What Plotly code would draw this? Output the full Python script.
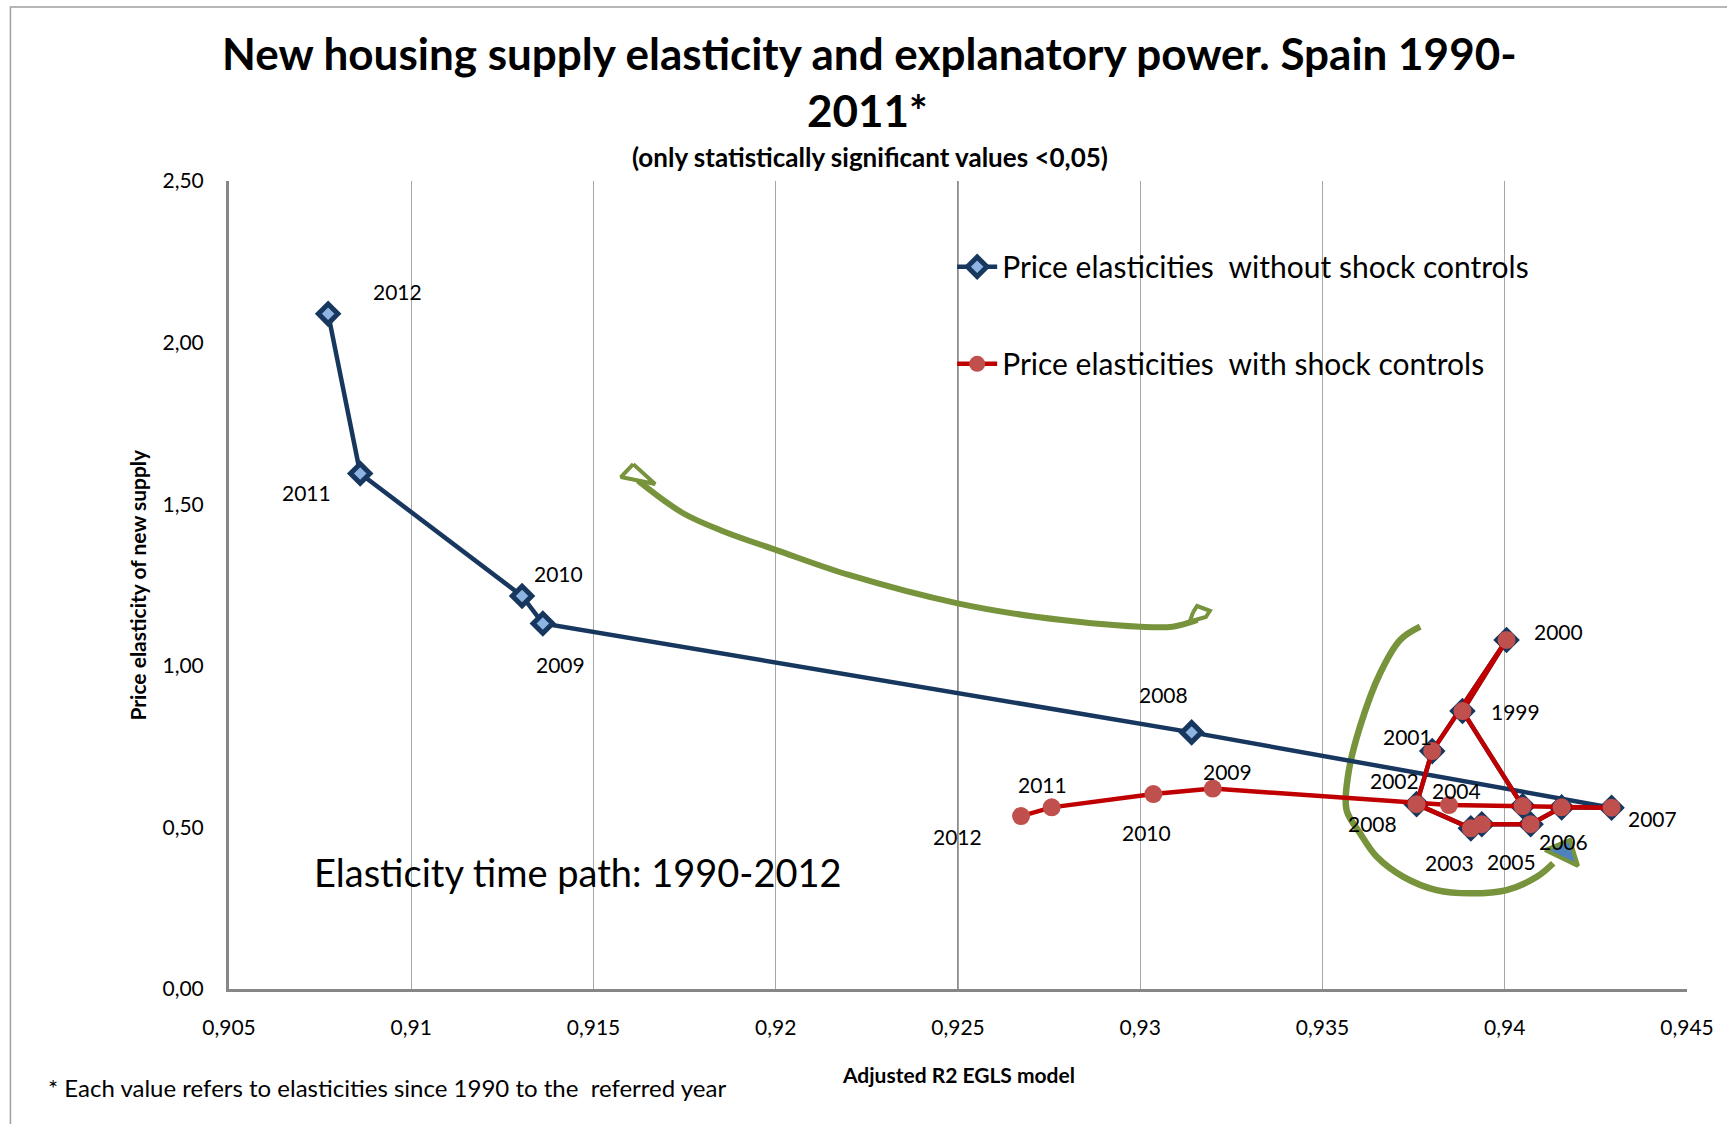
import plotly.graph_objects as go

# ---------------- data ----------------
YEARS = [1998, 1999, 2000, 2001, 2002, 2003, 2004, 2005, 2006, 2007, 2008, 2009, 2010, 2011, 2012]

# Price elasticities without shock controls (x = adjusted R2, y = elasticity)
BLUE_X = [0.94049, 0.93884, 0.94005, 0.93801, 0.93758, 0.93907, 0.93937, 0.94071, 0.94156, 0.94293,
          0.93141, 0.91361, 0.91304, 0.90860, 0.90772]
BLUE_Y = [0.566, 0.860, 1.080, 0.736, 0.572, 0.497, 0.510, 0.510, 0.562, 0.561,
          0.794, 1.131, 1.216, 1.595, 2.089]

# Price elasticities with shock controls
RED_X = [0.94049, 0.93884, 0.94005, 0.93801, 0.93758, 0.93907, 0.93937, 0.94071, 0.94156, 0.94293,
         0.93847, 0.93199, 0.93036, 0.92757, 0.92673]
RED_Y = [0.566, 0.860, 1.080, 0.736, 0.572, 0.497, 0.510, 0.510, 0.562, 0.561,
         0.569, 0.620, 0.603, 0.562, 0.535]

BLUE_NAME = "Price elasticities  without shock controls"
RED_NAME = "Price elasticities  with shock controls"

X_TICKS = [0.905, 0.91, 0.915, 0.92, 0.925, 0.93, 0.935, 0.94, 0.945]
X_TICKTEXT = ["0,905", "0,91", "0,915", "0,92", "0,925", "0,93", "0,935", "0,94", "0,945"]
Y_TICKS = [0.0, 0.5, 1.0, 1.5, 2.0, 2.5]
Y_TICKTEXT = ["0,00", "0,50", "1,00", "1,50", "2,00", "2,50"]

# hand-drawn green arrows (data coordinates)
ARROW1_X = [0.91622, 0.91746, 0.91859, 0.92002, 0.92201, 0.92499, 0.92713, 0.93000, 0.93089, 0.93157]
ARROW1_Y = [1.573, 1.472, 1.415, 1.358, 1.281, 1.193, 1.152, 1.121, 1.121, 1.142]
ARROW1_HEAD_X = [0.91609, 0.91575, 0.91669, 0.91609]
ARROW1_HEAD_Y = [1.624, 1.584, 1.5625, 1.624]
ARROW1_TAIL_X = [0.93145, 0.93156, 0.93191, 0.93180, 0.93136, 0.93145]
ARROW1_TAIL_Y = [1.166, 1.185, 1.170, 1.151, 1.137, 1.166]

ARROW2_X = [0.93768, 0.93713, 0.93658, 0.93603, 0.93571, 0.93566, 0.93603, 0.93649, 0.93722,
            0.93813, 0.93905, 0.94005, 0.94088, 0.94133]
ARROW2_Y = [1.121, 1.080, 0.977, 0.812, 0.667, 0.554, 0.482, 0.409, 0.347,
            0.306, 0.296, 0.306, 0.347, 0.389]
ARROW2_HEAD_X = [0.94110, 0.94179, 0.94201, 0.94110]
ARROW2_HEAD_Y = [0.430, 0.461, 0.381, 0.430]

# ---------------- styles ----------------
FONT = "Lato, 'Open Sans', sans-serif"
BLUE_LINE = "#17375E"
BLUE_FILL = "#8DB4E2"
RED_LINE = "#C00000"
RED_FILL = "#C0504D"
GREEN = "#77933C"
GRID = "#A6A6A6"
AXIS = "#868686"

# label offsets in pixels (dx, dy up)
BLUE_LABEL_OFFSETS = {1999: (53, 0), 2000: (52, 8), 2001: (-25, 15), 2002: (-22, 24), 2003: (-21, -34),
                      2004: (-25, 34), 2005: (-19, -37), 2006: (2, -34), 2007: (41, -11), 2008: (-28, 38),
                      2009: (18, -41), 2010: (36, 22), 2011: (-54, -19), 2012: (69, 22)}
RED_LABEL_OFFSETS = {2008: (-76, -18), 2009: (15, 17), 2010: (-7, -38), 2011: (-9, 23), 2012: (-64, -20)}

fig = go.Figure()

# arrows (drawn first, under the series)
fig.add_trace(go.Scatter(x=ARROW1_X, y=ARROW1_Y, mode="lines", line=dict(color=GREEN, width=6, shape="spline"),
                         showlegend=False, hoverinfo="skip"))
fig.add_trace(go.Scatter(x=ARROW1_HEAD_X, y=ARROW1_HEAD_Y, mode="lines", line=dict(color=GREEN, width=4),
                         fill="toself", fillcolor="white", showlegend=False, hoverinfo="skip"))
fig.add_trace(go.Scatter(x=ARROW1_TAIL_X, y=ARROW1_TAIL_Y, mode="lines", line=dict(color=GREEN, width=4),
                         fill="toself", fillcolor="white", showlegend=False, hoverinfo="skip"))
fig.add_trace(go.Scatter(x=ARROW2_X, y=ARROW2_Y, mode="lines", line=dict(color=GREEN, width=6.5, shape="spline"),
                         showlegend=False, hoverinfo="skip"))
fig.add_trace(go.Scatter(x=ARROW2_HEAD_X, y=ARROW2_HEAD_Y, mode="lines", line=dict(color=GREEN, width=4),
                         fill="toself", fillcolor="#4F81BD", showlegend=False, hoverinfo="skip"))

fig.add_trace(go.Scatter(
    x=BLUE_X, y=BLUE_Y, name=BLUE_NAME, mode="lines+markers", legendgroup="a",
    line=dict(color=BLUE_LINE, width=4.5),
    marker=dict(symbol="diamond", size=15, color=BLUE_FILL, line=dict(color=BLUE_LINE, width=5)),
))
fig.add_trace(go.Scatter(
    x=RED_X, y=RED_Y, name=RED_NAME, mode="lines+markers", legendgroup="b",
    line=dict(color=RED_LINE, width=4.5),
    marker=dict(symbol="circle", size=18, color=RED_FILL, line=dict(width=0)),
))

annotations = []
for yr, x, y in zip(YEARS, BLUE_X, BLUE_Y):
    if yr in BLUE_LABEL_OFFSETS:
        dx, dy = BLUE_LABEL_OFFSETS[yr]
        annotations.append(dict(x=x, y=y, xref="x", yref="y", text=str(yr), showarrow=False,
                                xshift=dx, yshift=dy, font=dict(size=21, color="black", family=FONT)))
for yr, x, y in zip(YEARS, RED_X, RED_Y):
    if yr in RED_LABEL_OFFSETS:
        dx, dy = RED_LABEL_OFFSETS[yr]
        annotations.append(dict(x=x, y=y, xref="x", yref="y", text=str(yr), showarrow=False,
                                xshift=dx, yshift=dy, font=dict(size=21, color="black", family=FONT)))

# titles and texts
annotations += [
    dict(x=0.4396, y=1.1584, xref="paper", yref="paper", showarrow=False, xanchor="center", yanchor="middle",
         text="<b>New housing supply elasticity and explanatory power. Spain 1990-</b>",
         font=dict(size=44, color="black", family=FONT)),
    dict(x=0.4376, y=1.0879, xref="paper", yref="paper", showarrow=False, xanchor="center", yanchor="middle",
         text="<b>2011*</b>", font=dict(size=44, color="black", family=FONT)),
    dict(x=0.4396, y=1.0291, xref="paper", yref="paper", showarrow=False, xanchor="center", yanchor="middle",
         text="<b>(only statistically significant values <0,05)</b>", font=dict(size=26, color="black", family=FONT)),
    dict(x=0.5, y=-0.1052, xref="paper", yref="paper", showarrow=False, xanchor="center", yanchor="middle",
         text="<b>Adjusted R2 EGLS model</b>", font=dict(size=21, color="black", family=FONT)),
    dict(x=-0.0634, y=0.5, xref="paper", yref="paper", showarrow=False, xanchor="center", yanchor="middle",
         textangle=-90, text="<b>Price elasticity of new supply</b>", font=dict(size=21, color="black", family=FONT)),
    dict(x=-0.1255, y=-0.1225, xref="paper", yref="paper", showarrow=False, xanchor="left", yanchor="middle",
         text="* Each value refers to elasticities since 1990 to the  referred year",
         font=dict(size=24, color="black", family=FONT)),
    dict(x=0.0569, y=0.1448, xref="paper", yref="paper", showarrow=False, xanchor="left", yanchor="middle",
         text="Elasticity time path: 1990-2012", font=dict(size=38, color="black", family=FONT)),
]

shapes = [
    # outer chart frame
    dict(type="rect", xref="paper", yref="paper", x0=-0.1499, x1=1.2, y0=-0.3, y1=1.2153,
         line=dict(color="#A0A0A0", width=1.5), layer="below"),
    # darker vertical line at 0.925
    dict(type="line", xref="x", yref="paper", x0=0.925, x1=0.925, y0=0, y1=1,
         line=dict(color="#8C8C8C", width=2), layer="below"),
]

fig.update_layout(
    width=1727, height=1124,
    margin=dict(l=229, r=40, t=181, b=135),
    paper_bgcolor="white", plot_bgcolor="white",
    font=dict(family=FONT, color="black"),
    annotations=annotations, shapes=shapes,
    showlegend=True,
    legend=dict(x=0.496, y=0.926, xanchor="left", yanchor="top", bgcolor="rgba(0,0,0,0)",
                font=dict(size=30, color="black", family=FONT), tracegroupgap=55, itemwidth=40,
                traceorder="grouped"),
)
fig.update_xaxes(range=[0.905, 0.945], tickvals=X_TICKS, ticktext=X_TICKTEXT, showgrid=True,
                 gridcolor=GRID, gridwidth=1, showline=True, linecolor=AXIS, linewidth=3, ticks="",
                 tickfont=dict(size=21, color="black", family=FONT), ticklabelstandoff=18, zeroline=False)
fig.update_yaxes(range=[0, 2.5], tickvals=Y_TICKS, ticktext=Y_TICKTEXT, showgrid=False,
                 showline=True, linecolor=AXIS, linewidth=3, ticks="",
                 tickfont=dict(size=21, color="black", family=FONT), ticklabelstandoff=18, zeroline=False)

fig.write_html("out.html")
